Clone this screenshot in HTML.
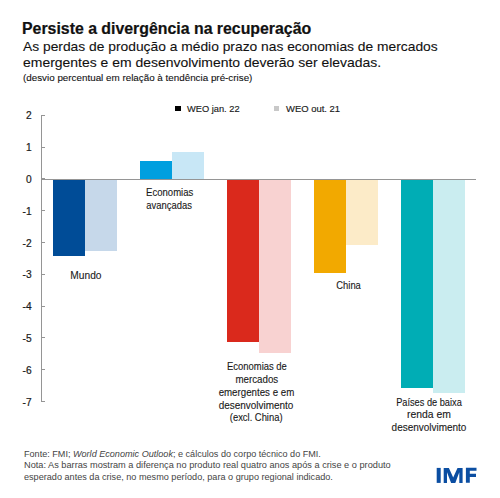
<!DOCTYPE html>
<html><head><meta charset="utf-8"><style>
html,body{margin:0;padding:0;background:#fff;}
body{width:500px;height:498px;position:relative;overflow:hidden;font-family:"Liberation Sans",sans-serif;}
.t{position:absolute;white-space:pre;line-height:1;}
.b{position:absolute;}
</style></head><body>
<div class="b" style="left:53px;top:179px;width:32px;height:77.20px;background:#004c97"></div>
<div class="b" style="left:85px;top:179px;width:32px;height:72.00px;background:#c6d8ea"></div>
<div class="b" style="left:140px;top:161.4px;width:32px;height:17.60px;background:#009fdf"></div>
<div class="b" style="left:172px;top:151.6px;width:32px;height:27.40px;background:#c8e7f6"></div>
<div class="b" style="left:227px;top:179px;width:32px;height:162.70px;background:#da291c"></div>
<div class="b" style="left:259px;top:179px;width:32px;height:173.80px;background:#f8d2d1"></div>
<div class="b" style="left:314px;top:179px;width:32px;height:93.80px;background:#f2a900"></div>
<div class="b" style="left:346px;top:179px;width:32px;height:65.50px;background:#fcebc8"></div>
<div class="b" style="left:401px;top:179px;width:32px;height:208.80px;background:#00adb5"></div>
<div class="b" style="left:433px;top:179px;width:32px;height:213.60px;background:#caedf0"></div>
<div class="b" style="left:41px;top:115px;width:1px;height:287px;background:#959595"></div>
<div class="b" style="left:41px;top:114.80px;width:4px;height:1px;background:#959595"></div>
<div class="b" style="left:41px;top:146.59px;width:4px;height:1px;background:#959595"></div>
<div class="b" style="left:41px;top:178.38px;width:4px;height:1px;background:#959595"></div>
<div class="b" style="left:41px;top:210.17px;width:4px;height:1px;background:#959595"></div>
<div class="b" style="left:41px;top:241.96px;width:4px;height:1px;background:#959595"></div>
<div class="b" style="left:41px;top:273.75px;width:4px;height:1px;background:#959595"></div>
<div class="b" style="left:41px;top:305.54px;width:4px;height:1px;background:#959595"></div>
<div class="b" style="left:41px;top:337.33px;width:4px;height:1px;background:#959595"></div>
<div class="b" style="left:41px;top:369.12px;width:4px;height:1px;background:#959595"></div>
<div class="b" style="left:41px;top:400.91px;width:4px;height:1px;background:#959595"></div>
<div class="b" style="left:41px;top:178.6px;width:435px;height:1px;background:#959595"></div>
<div class="b" style="left:174.5px;top:106.2px;width:6px;height:5px;background:#000"></div>
<div class="b" style="left:273.8px;top:106.2px;width:5.6px;height:5px;background:#c8c8c8"></div>
<div class="t" style="left:21.8px;top:20.86px;font-size:16.0px;font-weight:bold;color:#111;transform-origin:0 0;transform:scaleX(0.9914);-webkit-text-stroke:0.2px currentColor">Persiste a divergência na recuperação</div>
<div class="t" style="left:22.5px;top:40.06px;font-size:13.4px;font-weight:normal;color:#111;transform-origin:0 0;transform:scaleX(1.0317);-webkit-text-stroke:0.1px currentColor">As perdas de produção a médio prazo nas economias de mercados</div>
<div class="t" style="left:22.5px;top:55.66px;font-size:13.4px;font-weight:normal;color:#111;transform-origin:0 0;transform:scaleX(1.0416);-webkit-text-stroke:0.1px currentColor">emergentes e em desenvolvimento deverão ser elevadas.</div>
<div class="t" style="left:22.6px;top:73.22px;font-size:9.9px;font-weight:normal;color:#111;transform-origin:0 0;transform:scaleX(0.9950);-webkit-text-stroke:0.1px currentColor">(desvio percentual em relação à tendência pré-crise)</div>
<div class="t" style="left:186.5px;top:103.67px;font-size:9.6px;font-weight:normal;color:#1a1a1a;transform-origin:0 0;transform:scaleX(0.9671);-webkit-text-stroke:0.15px currentColor">WEO jan. 22</div>
<div class="t" style="left:285.8px;top:103.67px;font-size:9.6px;font-weight:normal;color:#1a1a1a;transform-origin:0 0;transform:scaleX(0.9850);-webkit-text-stroke:0.15px currentColor">WEO out. 21</div>
<div class="t" style="left:25.93px;top:111.47px;font-size:10.2px;font-weight:normal;color:#1a1a1a;transform-origin:100% 0;transform:scaleX(1.0000);-webkit-text-stroke:0.2px currentColor">2</div>
<div class="t" style="left:25.93px;top:143.26px;font-size:10.2px;font-weight:normal;color:#1a1a1a;transform-origin:100% 0;transform:scaleX(1.0000);-webkit-text-stroke:0.2px currentColor">1</div>
<div class="t" style="left:25.93px;top:175.05px;font-size:10.2px;font-weight:normal;color:#1a1a1a;transform-origin:100% 0;transform:scaleX(1.0000);-webkit-text-stroke:0.2px currentColor">0</div>
<div class="t" style="left:22.54px;top:206.84px;font-size:10.2px;font-weight:normal;color:#1a1a1a;transform-origin:100% 0;transform:scaleX(1.0000);-webkit-text-stroke:0.2px currentColor">-1</div>
<div class="t" style="left:22.54px;top:238.63px;font-size:10.2px;font-weight:normal;color:#1a1a1a;transform-origin:100% 0;transform:scaleX(1.0000);-webkit-text-stroke:0.2px currentColor">-2</div>
<div class="t" style="left:22.54px;top:270.42px;font-size:10.2px;font-weight:normal;color:#1a1a1a;transform-origin:100% 0;transform:scaleX(1.0000);-webkit-text-stroke:0.2px currentColor">-3</div>
<div class="t" style="left:22.54px;top:302.21px;font-size:10.2px;font-weight:normal;color:#1a1a1a;transform-origin:100% 0;transform:scaleX(1.0000);-webkit-text-stroke:0.2px currentColor">-4</div>
<div class="t" style="left:22.54px;top:334.00px;font-size:10.2px;font-weight:normal;color:#1a1a1a;transform-origin:100% 0;transform:scaleX(1.0000);-webkit-text-stroke:0.2px currentColor">-5</div>
<div class="t" style="left:22.54px;top:365.79px;font-size:10.2px;font-weight:normal;color:#1a1a1a;transform-origin:100% 0;transform:scaleX(1.0000);-webkit-text-stroke:0.2px currentColor">-6</div>
<div class="t" style="left:22.54px;top:397.58px;font-size:10.2px;font-weight:normal;color:#1a1a1a;transform-origin:100% 0;transform:scaleX(1.0000);-webkit-text-stroke:0.2px currentColor">-7</div>
<div class="t" style="left:69.51px;top:270.70px;font-size:10.4px;font-weight:normal;color:#1a1a1a;transform-origin:50% 0;transform:scaleX(0.9817);-webkit-text-stroke:0.1px currentColor">Mundo</div>
<div class="t" style="left:144.00px;top:188.30px;font-size:10.4px;font-weight:normal;color:#1a1a1a;transform-origin:50% 0;transform:scaleX(0.9182);-webkit-text-stroke:0.12px currentColor">Economias</div>
<div class="t" style="left:144.37px;top:201.40px;font-size:10.4px;font-weight:normal;color:#1a1a1a;transform-origin:50% 0;transform:scaleX(0.9072);-webkit-text-stroke:0.12px currentColor">avançadas</div>
<div class="t" style="left:223.67px;top:362.00px;font-size:10.4px;font-weight:normal;color:#1a1a1a;transform-origin:50% 0;transform:scaleX(0.9095);-webkit-text-stroke:0.12px currentColor">Economias de</div>
<div class="t" style="left:233.79px;top:374.85px;font-size:10.4px;font-weight:normal;color:#1a1a1a;transform-origin:50% 0;transform:scaleX(0.9381);-webkit-text-stroke:0.12px currentColor">mercados</div>
<div class="t" style="left:215.97px;top:387.70px;font-size:10.4px;font-weight:normal;color:#1a1a1a;transform-origin:50% 0;transform:scaleX(0.9350);-webkit-text-stroke:0.12px currentColor">emergentes e em</div>
<div class="t" style="left:217.41px;top:400.55px;font-size:10.4px;font-weight:normal;color:#1a1a1a;transform-origin:50% 0;transform:scaleX(0.9579);-webkit-text-stroke:0.12px currentColor">desenvolvimento</div>
<div class="t" style="left:227.44px;top:413.40px;font-size:10.4px;font-weight:normal;color:#1a1a1a;transform-origin:50% 0;transform:scaleX(0.9035);-webkit-text-stroke:0.12px currentColor">(excl. China)</div>
<div class="t" style="left:335.42px;top:280.80px;font-size:10.4px;font-weight:normal;color:#1a1a1a;transform-origin:50% 0;transform:scaleX(0.9022);-webkit-text-stroke:0.12px currentColor">China</div>
<div class="t" style="left:391.83px;top:397.70px;font-size:10.4px;font-weight:normal;color:#1a1a1a;transform-origin:50% 0;transform:scaleX(0.8872);-webkit-text-stroke:0.12px currentColor">Países de baixa</div>
<div class="t" style="left:406.95px;top:410.40px;font-size:10.4px;font-weight:normal;color:#1a1a1a;transform-origin:50% 0;transform:scaleX(1.0000);-webkit-text-stroke:0.12px currentColor">renda em</div>
<div class="t" style="left:390.01px;top:423.10px;font-size:10.4px;font-weight:normal;color:#1a1a1a;transform-origin:50% 0;transform:scaleX(0.9592);-webkit-text-stroke:0.12px currentColor">desenvolvimento</div>
<div class="t" style="left:24.3px;top:450.18px;font-size:9.0px;font-weight:normal;color:#444;transform-origin:0 0;transform:scaleX(1.0094)">Fonte: FMI; <i>World Economic Outlook</i>; e cálculos do corpo técnico do FMI.</div>
<div class="t" style="left:24.3px;top:461.38px;font-size:9.0px;font-weight:normal;color:#444;transform-origin:0 0;transform:scaleX(1.0222)">Nota: As barras mostram a diferença no produto real quatro anos após a crise e o produto</div>
<div class="t" style="left:24.3px;top:472.88px;font-size:9.0px;font-weight:normal;color:#444;transform-origin:0 0;transform:scaleX(1.0121)">esperado antes da crise, no mesmo período, para o grupo regional indicado.</div>
<svg style="position:absolute;left:0;top:0" width="500" height="498" viewBox="0 0 500 498">
<g fill="#0b4ea2">
<rect x="436.7" y="467.9" width="4" height="15"/>
<path d="M443.7 467.9 H448.9 L453.2 477.6 L457.5 467.9 H462.6 V482.9 H459.3 V472.3 L455.3 482.9 H451.1 L447.0 472.3 V482.9 H443.7 Z"/>
<path d="M465.9 467.8 H476.5 V470.7 H469.8 V473.8 H476.0 V476.9 H469.8 V482.8 H465.9 Z"/>
</g></svg>
</body></html>
